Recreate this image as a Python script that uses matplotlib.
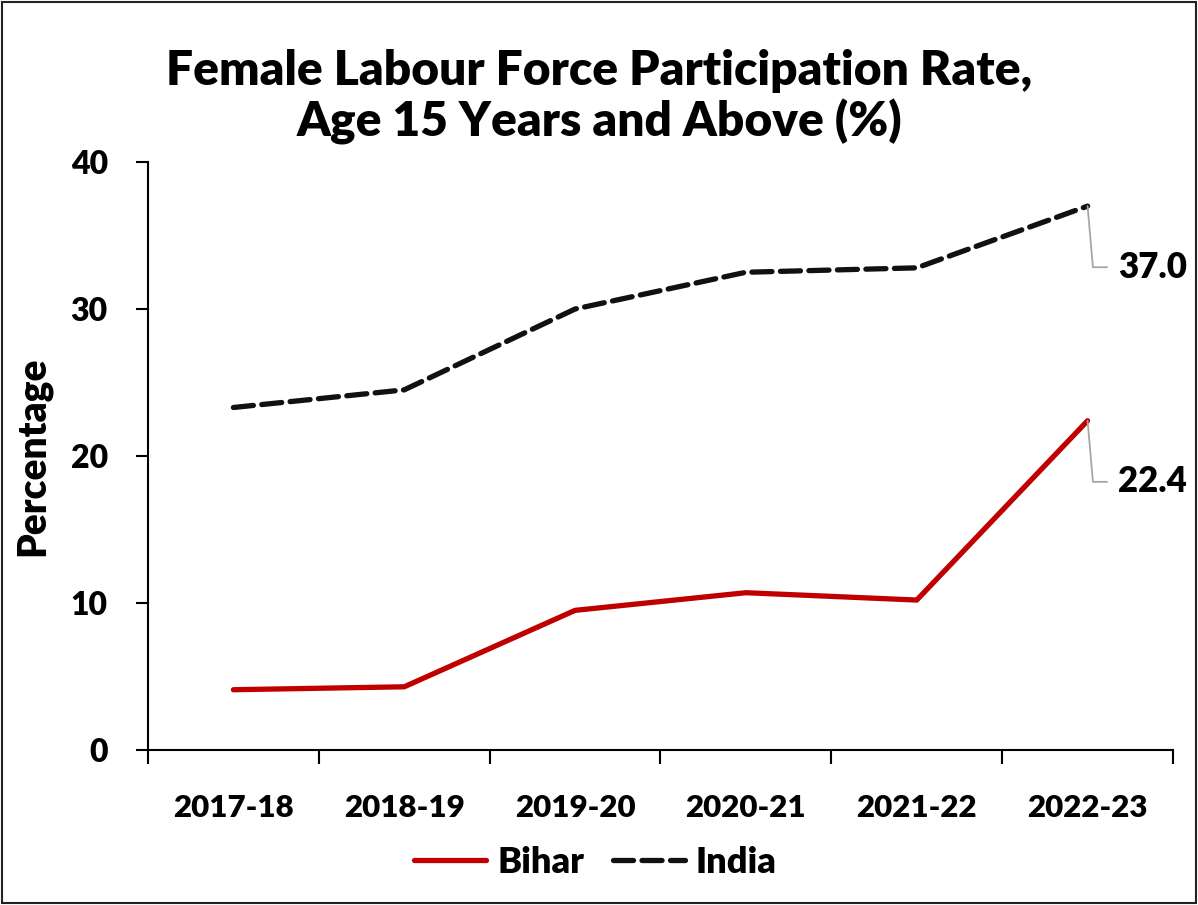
import matplotlib.pyplot as plt
from matplotlib.patches import Rectangle

years = ['2017-18', '2018-19', '2019-20', '2020-21', '2021-22', '2022-23']
bihar = [4.1, 4.3, 9.5, 10.7, 10.2, 22.4]
india = [23.3, 24.5, 30.0, 32.5, 32.8, 37.0]

plt.rcParams['font.family'] = ['Lato', 'DejaVu Sans']
W = 'heavy'

fig = plt.figure(figsize=(11.98, 9.05), dpi=100)
ax = fig.add_axes([148 / 1198, 155 / 905, 1025 / 1198, 588 / 905])

x = range(len(years))
ax.plot(x, bihar, color='#c00000', lw=3.8, solid_capstyle='round', label='Bihar')
ax.plot(x, india, color='#111111', lw=3.8, dashes=(3.8, 1.6), dash_capstyle='round', label='India')

ax.set_xlim(-0.5, len(years) - 0.5)
ax.set_ylim(0, 40)
ax.set_yticks([0, 10, 20, 30, 40])
ax.set_yticklabels(['0', '10', '20', '30', '40'], fontsize=23, fontweight=W)
ax.set_xticks([i - 0.5 for i in range(len(years) + 1)])
ax.set_xticklabels([])
ax.set_xticks(list(x), minor=True)
ax.set_xticklabels(years, minor=True, fontsize=22.5, fontweight=W)
ax.tick_params(axis='x', which='minor', length=0, pad=32)
ax.tick_params(axis='x', which='major', length=10, width=1.5, direction='out')
ax.tick_params(axis='y', length=9, width=1.5, direction='out', pad=20)

for s in ['top', 'right']:
    ax.spines[s].set_visible(False)
for s in ['left', 'bottom']:
    ax.spines[s].set_linewidth(1.5)

ax.set_ylabel('Percentage', fontsize=28, fontweight=W, labelpad=14)

# data labels for the last year
for series in (india, bihar):
    ax.annotate(f'{series[-1]:.1f}', xy=(len(years) - 1, series[-1]),
                xytext=(22, -44), textcoords='offset points',
                fontsize=25, fontweight=W, va='center', ha='left',
                arrowprops=dict(arrowstyle='-', color='#a6a6a6', lw=1.3,
                                shrinkA=6, shrinkB=0,
                                connectionstyle='angle,angleA=0,angleB=95,rad=0'))

fig.text(0.5, 1 - 97 / 905, 'Female Labour Force Participation Rate,\nAge 15 Years and Above (%)',
         ha='center', va='center', fontsize=34.5, fontweight=W, linespacing=1.17)

fig.legend(loc='center', bbox_to_anchor=(0.497, 1 - 862 / 905), ncol=2, frameon=False,
           prop={'size': 26, 'weight': W}, handlelength=2.0, handletextpad=0.3, columnspacing=0.8)

fig.patches.append(Rectangle((0.002, 0.002), 0.996, 0.996, transform=fig.transFigure,
                             fill=False, edgecolor='#222222', lw=1.5))

fig.savefig('out.png', dpi=100)
